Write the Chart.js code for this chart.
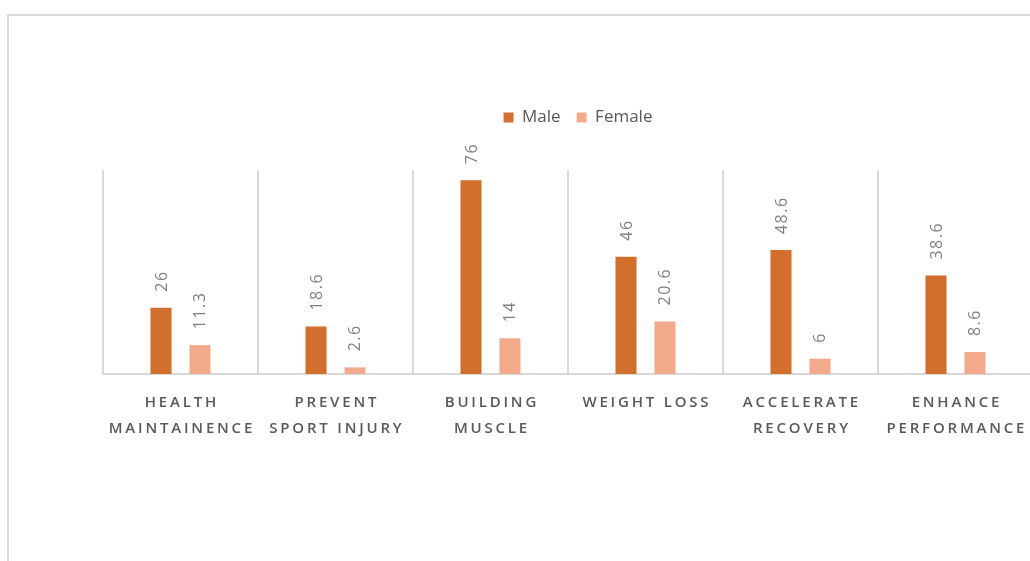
<!DOCTYPE html>
<html lang="en">
<head>
    <meta charset="UTF-8">
    <title>Supplement use by goal</title>
    <script src="https://cdn.jsdelivr.net/npm/chart.js"></script>
</head>
<style>
    body {
        margin: 0;
        overflow: hidden;
        background: #fff;
        width: 1030px;
        height: 561px;
        position: relative;
    }
    .frame {
        position: absolute;
        left: 7px;
        top: 14px;
        width: 1100px;
        height: 600px;
        border-top: 2px solid #d9d9d9;
        border-left: 2px solid #d9d9d9;
    }
    #goalChart {
        position: absolute;
        left: 0;
        top: 0;
    }
</style>
<body>
<div class="frame"></div>
<canvas id="goalChart" width="1060" height="561"></canvas>

<script>
    var categories = [
        ['HEALTH', 'MAINTAINENCE'],
        ['PREVENT', 'SPORT INJURY'],
        ['BUILDING', 'MUSCLE'],
        ['WEIGHT LOSS'],
        ['ACCELERATE', 'RECOVERY'],
        ['ENHANCE', 'PERFORMANCE']
    ];
    var maleValues = [26, 18.6, 76, 46, 48.6, 38.6];
    var femaleValues = [11.3, 2.6, 14, 20.6, 6, 8.6];

    // value printed sideways above each bar
    var barLabels = {
        id: 'barLabels',
        afterDatasetsDraw: function (chart) {
            var ctx = chart.ctx;
            ctx.save();
            ctx.font = '16px "Open Sans"';
            ctx.letterSpacing = '1.5px';
            ctx.fillStyle = '#808080';
            ctx.textAlign = 'left';
            ctx.textBaseline = 'alphabetic';
            chart.data.datasets.forEach(function (ds, di) {
                chart.getDatasetMeta(di).data.forEach(function (bar, i) {
                    ctx.save();
                    ctx.translate(bar.x + 5.5, bar.y - 16);
                    ctx.rotate(-Math.PI / 2);
                    ctx.fillText(String(ds.data[i]), 0, 0);
                    ctx.restore();
                });
            });
            ctx.restore();
        }
    };

    // spaced-out category names under the axis
    var categoryLabels = {
        id: 'categoryLabels',
        afterDraw: function (chart) {
            var ctx = chart.ctx;
            var xs = chart.scales.x;
            var spacing = 2.8;
            ctx.save();
            ctx.font = '600 15px "Open Sans"';
            ctx.letterSpacing = spacing + 'px';
            ctx.fillStyle = '#595959';
            ctx.textAlign = 'center';
            ctx.textBaseline = 'middle';
            chart.data.labels.forEach(function (lines, i) {
                var x = xs.getPixelForValue(i) + spacing / 2;
                lines.forEach(function (t, j) {
                    ctx.fillText(t, x, chart.chartArea.bottom + 29 + j * 26);
                });
            });
            ctx.restore();
        }
    };

    // extra room between legend and plot
    var legendGap = {
        id: 'legendGap',
        beforeInit: function (chart) {
            var fit = chart.legend.fit;
            chart.legend.fit = function () {
                fit.bind(chart.legend)();
                this.height += 34;
            };
        }
    };

    var ctx = document.getElementById('goalChart').getContext('2d');
    window.myChart = new Chart(ctx, {
        type: 'bar',
        data: {
            labels: categories,
            datasets: [{
                label: 'Male',
                data: maleValues,
                backgroundColor: '#D36F2C',
                categoryPercentage: 0.503,
                barPercentage: 0.54
            }, {
                label: 'Female',
                data: femaleValues,
                backgroundColor: '#F3AA8B',
                categoryPercentage: 0.503,
                barPercentage: 0.54
            }]
        },
        plugins: [legendGap, barLabels, categoryLabels],
        options: {
            responsive: false,
            animation: false,
            layout: {
                padding: { left: 103, right: 7, top: 93, bottom: 187 }
            },
            plugins: {
                tooltip: { enabled: false },
                legend: {
                    position: 'top',
                    labels: {
                        boxWidth: 10,
                        boxHeight: 10,
                        padding: 16,
                        color: '#595959',
                        font: { family: 'Open Sans', size: 17 }
                    }
                }
            },
            scales: {
                x: {
                    grid: {
                        color: '#d9d9d9',
                        lineWidth: 2,
                        drawTicks: false,
                        offset: true
                    },
                    border: { display: true, color: '#d9d9d9', width: 2 },
                    ticks: { display: false }
                },
                y: {
                    position: 'right',
                    min: 0,
                    max: 80,
                    grid: { display: false },
                    border: { display: false },
                    ticks: { display: false },
                    afterFit: function (s) { s.width = 20; }
                }
            }
        }
    });
</script>
</body>
</html>
